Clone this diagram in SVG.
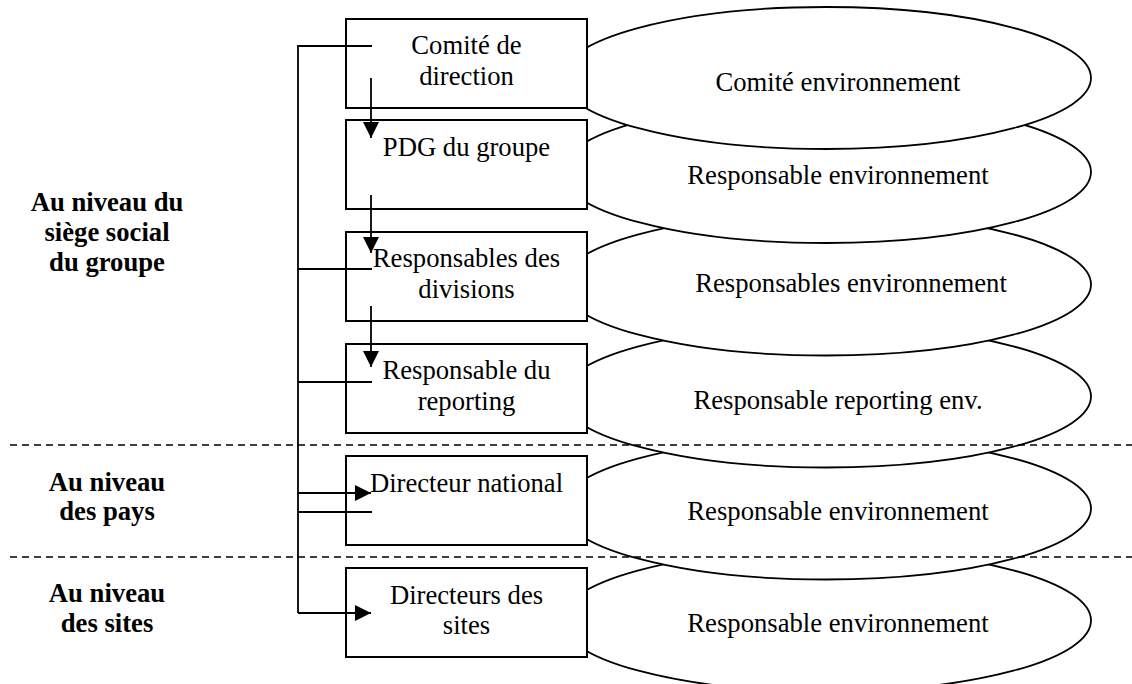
<svg xmlns="http://www.w3.org/2000/svg" width="1132" height="684" viewBox="0 0 1132 684">
<style>
.t{font-family:"Liberation Serif","Times New Roman",serif;font-size:26.67px;fill:#000;text-anchor:middle}
.b{font-weight:bold}
.box{fill:#fff;stroke:#000;stroke-width:2}
.ell{fill:#fff;stroke:#000;stroke-width:1.8}
.ln{fill:none;stroke:#000;stroke-width:1.8}
.arr{fill:none;stroke:#000;stroke-width:1.8;marker-end:url(#ah)}
.dash{fill:none;stroke:#000;stroke-width:1.6;stroke-dasharray:7 5}
</style>
<defs>
<marker id="ah" markerUnits="userSpaceOnUse" markerWidth="16" markerHeight="16" viewBox="0 0 14 14" refX="14" refY="7" orient="auto">
<path d="M0,0 L14,7 L0,14 Z" fill="#000"/>
</marker>
</defs>
<rect width="1132" height="684" fill="#fff"/>

<g id="labels">
<text class="t b" x="107" y="211">Au niveau du</text>
<text class="t b" x="107" y="241">siège social</text>
<text class="t b" x="107" y="271">du groupe</text>
<text class="t b" x="107" y="491">Au niveau</text>
<text class="t b" x="107" y="520">des pays</text>
<text class="t b" x="107" y="602">Au niveau</text>
<text class="t b" x="107" y="632">des sites</text>
</g>

<g id="ellipse6"><ellipse class="ell" cx="826" cy="620.5" rx="265" ry="71"/><text class="t" x="838" y="632">Responsable environnement</text></g>
<g id="ellipse5"><ellipse class="ell" cx="826" cy="508.5" rx="265" ry="71"/><text class="t" x="838" y="520">Responsable environnement</text></g>
<g id="ellipse4"><ellipse class="ell" cx="826" cy="396.5" rx="265" ry="71"/><text class="t" x="838" y="409">Responsable reporting env.</text></g>
<g id="ellipse3"><ellipse class="ell" cx="826" cy="284.5" rx="265" ry="71"/><text class="t" x="851" y="292">Responsables environnement</text></g>
<g id="ellipse2"><ellipse class="ell" cx="826" cy="172" rx="265" ry="71"/><text class="t" x="838" y="184">Responsable environnement</text></g>
<g id="ellipse1"><ellipse class="ell" cx="826" cy="78" rx="265" ry="71"/><text class="t" x="838" y="91">Comité environnement</text></g>

<g id="separators">
<line class="dash" x1="10" y1="445" x2="1132" y2="445"/>
<line class="dash" x1="10" y1="557" x2="1132" y2="557"/>
</g>

<g id="box1"><rect class="box" x="346" y="19" width="241" height="89"/><text class="t" x="466.5" y="54">Comité de</text><text class="t" x="466.5" y="85">direction</text></g>
<g id="box2"><rect class="box" x="346" y="120" width="241" height="89"/><text class="t" x="466.5" y="156">PDG du groupe</text></g>
<g id="box3"><rect class="box" x="346" y="232" width="241" height="89"/><text class="t" x="466.5" y="267">Responsables des</text><text class="t" x="466.5" y="298">divisions</text></g>
<g id="box4"><rect class="box" x="346" y="344" width="241" height="89"/><text class="t" x="466.5" y="379">Responsable du</text><text class="t" x="466.5" y="410">reporting</text></g>
<g id="box5"><rect class="box" x="346" y="456" width="241" height="89"/><text class="t" x="466.5" y="492">Directeur national</text></g>
<g id="box6"><rect class="box" x="346" y="568" width="241" height="89"/><text class="t" x="466.5" y="604">Directeurs des</text><text class="t" x="466.5" y="634">sites</text></g>

<g id="connectors">
<path class="ln" d="M372,46 H298 V613"/>
<line class="ln" x1="298" y1="269" x2="372" y2="269"/>
<line class="ln" x1="298" y1="382" x2="372" y2="382"/>
<line class="ln" x1="298" y1="512" x2="372" y2="512"/>
<line class="arr" x1="298" y1="493" x2="371" y2="493"/>
<line class="arr" x1="298" y1="613" x2="371" y2="613"/>
<line class="arr" x1="371" y1="78" x2="371" y2="138"/>
<line class="arr" x1="371" y1="195" x2="371" y2="253"/>
<line class="arr" x1="371" y1="306" x2="371" y2="367"/>
</g>
</svg>
